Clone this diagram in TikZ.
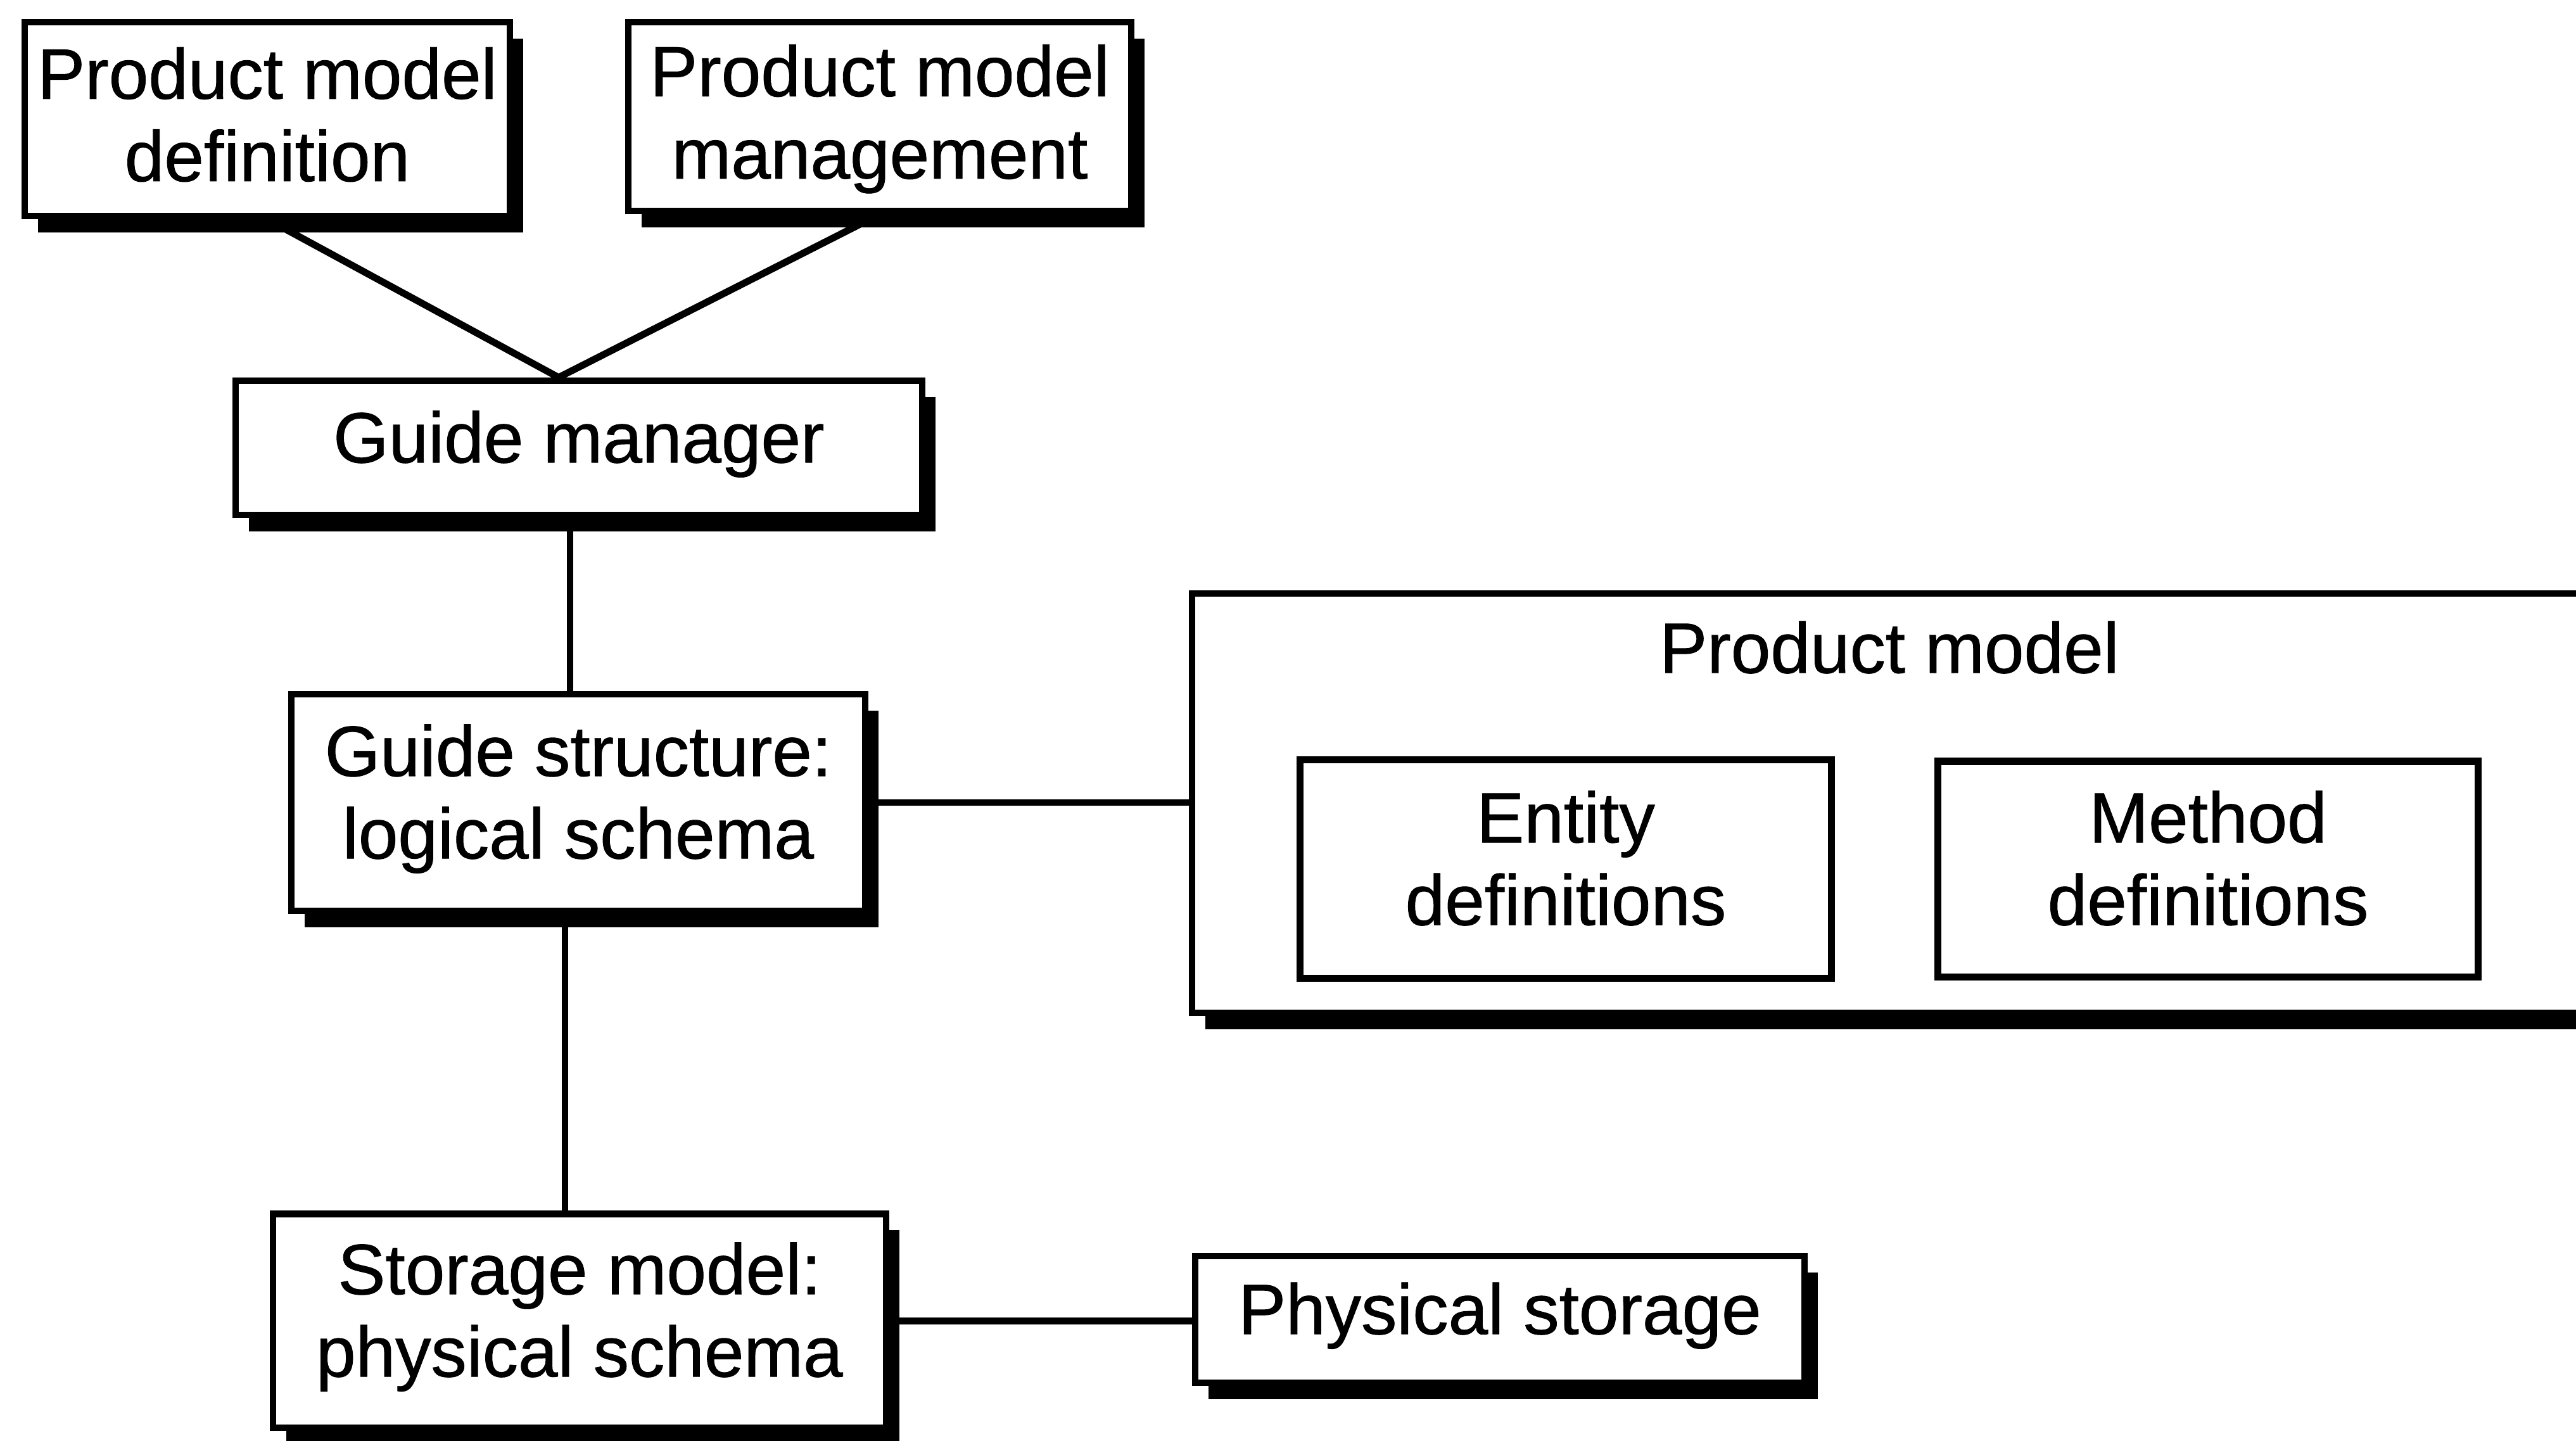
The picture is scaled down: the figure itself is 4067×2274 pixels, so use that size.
\documentclass[tikz,border=0pt]{standalone}
\usepackage{fontspec}
\setmainfont{Liberation Sans}
\newfontfamily\diagfont{Liberation Sans}[FakeBold=0.8]
\usetikzlibrary{shadows}
\begin{document}
\begin{tikzpicture}[x=0.01cm,y=-0.01cm,
  txt/.style={font=\diagfont\fontsize{32}{37}\selectfont},
  box/.style={txt, draw, line width=2.9pt, fill=white, align=center,
    inner sep=0pt, text depth=1em},
  shadowed/.style={general shadow={fill=black, shadow xshift=0.21cm, shadow yshift=-0.26cm}},
  innerbox/.style={box, line width=3.2pt},
  link/.style={line width=3.1pt}]
\useasboundingbox (0,0) rectangle (4067,2274);
\clip (0,0) rectangle (4067,2274);

% upper tools
\node[box, shadowed, text depth=0.45em, minimum width=7.65cm, minimum height=3.06cm] (pmdef) at (422,188) {Product model\\definition};
\node[box, shadowed, text depth=0.45em, minimum width=7.94cm, minimum height=2.98cm] (pmman) at (1389,184) {Product model\\management};
\node[box, shadowed, minimum width=10.84cm, minimum height=2.12cm] (gm) at (914,707) {Guide manager};

% schema levels
\node[box, shadowed, minimum width=9.05cm, minimum height=3.42cm] (gs) at (913,1267) {Guide structure:\\logical schema};
\node[box, shadowed, minimum width=9.67cm, minimum height=3.37cm] (sm) at (915,2085) {Storage model:\\physical schema};
\node[box, shadowed, minimum width=9.62cm, minimum height=2.00cm] (ps) at (2368,2083) {Physical storage};

% product model container
\node[box, shadowed, minimum width=25.17cm, minimum height=6.61cm] (pm) at (3141,1268) {};
\node[txt] (pmtitle) at (2983,1022) {Product model};
\node[innerbox, minimum width=8.38cm, minimum height=3.45cm] (ent) at (2472,1372) {Entity\\definitions};
\node[innerbox, minimum width=8.53cm, minimum height=3.40cm] (meth) at (3486,1372) {Method\\definitions};

% connectors
\coordinate (apex) at ([xshift=-0.32cm]gm.north);
\draw[link] (pmdef.south) -- (apex) -- (pmman.south);
\draw[link] ([xshift=-0.14cm]gm.south) -- ([xshift=-0.14cm]gm.south |- gs.north);
\draw[link] ([xshift=-0.21cm]gs.south) -- ([xshift=-0.21cm]gs.south |- sm.north);
\draw[link] (gs.east) -- (gs.east -| pm.west);
\draw[link] (sm.east) -- (sm.east -| ps.west);
\end{tikzpicture}
\end{document}
